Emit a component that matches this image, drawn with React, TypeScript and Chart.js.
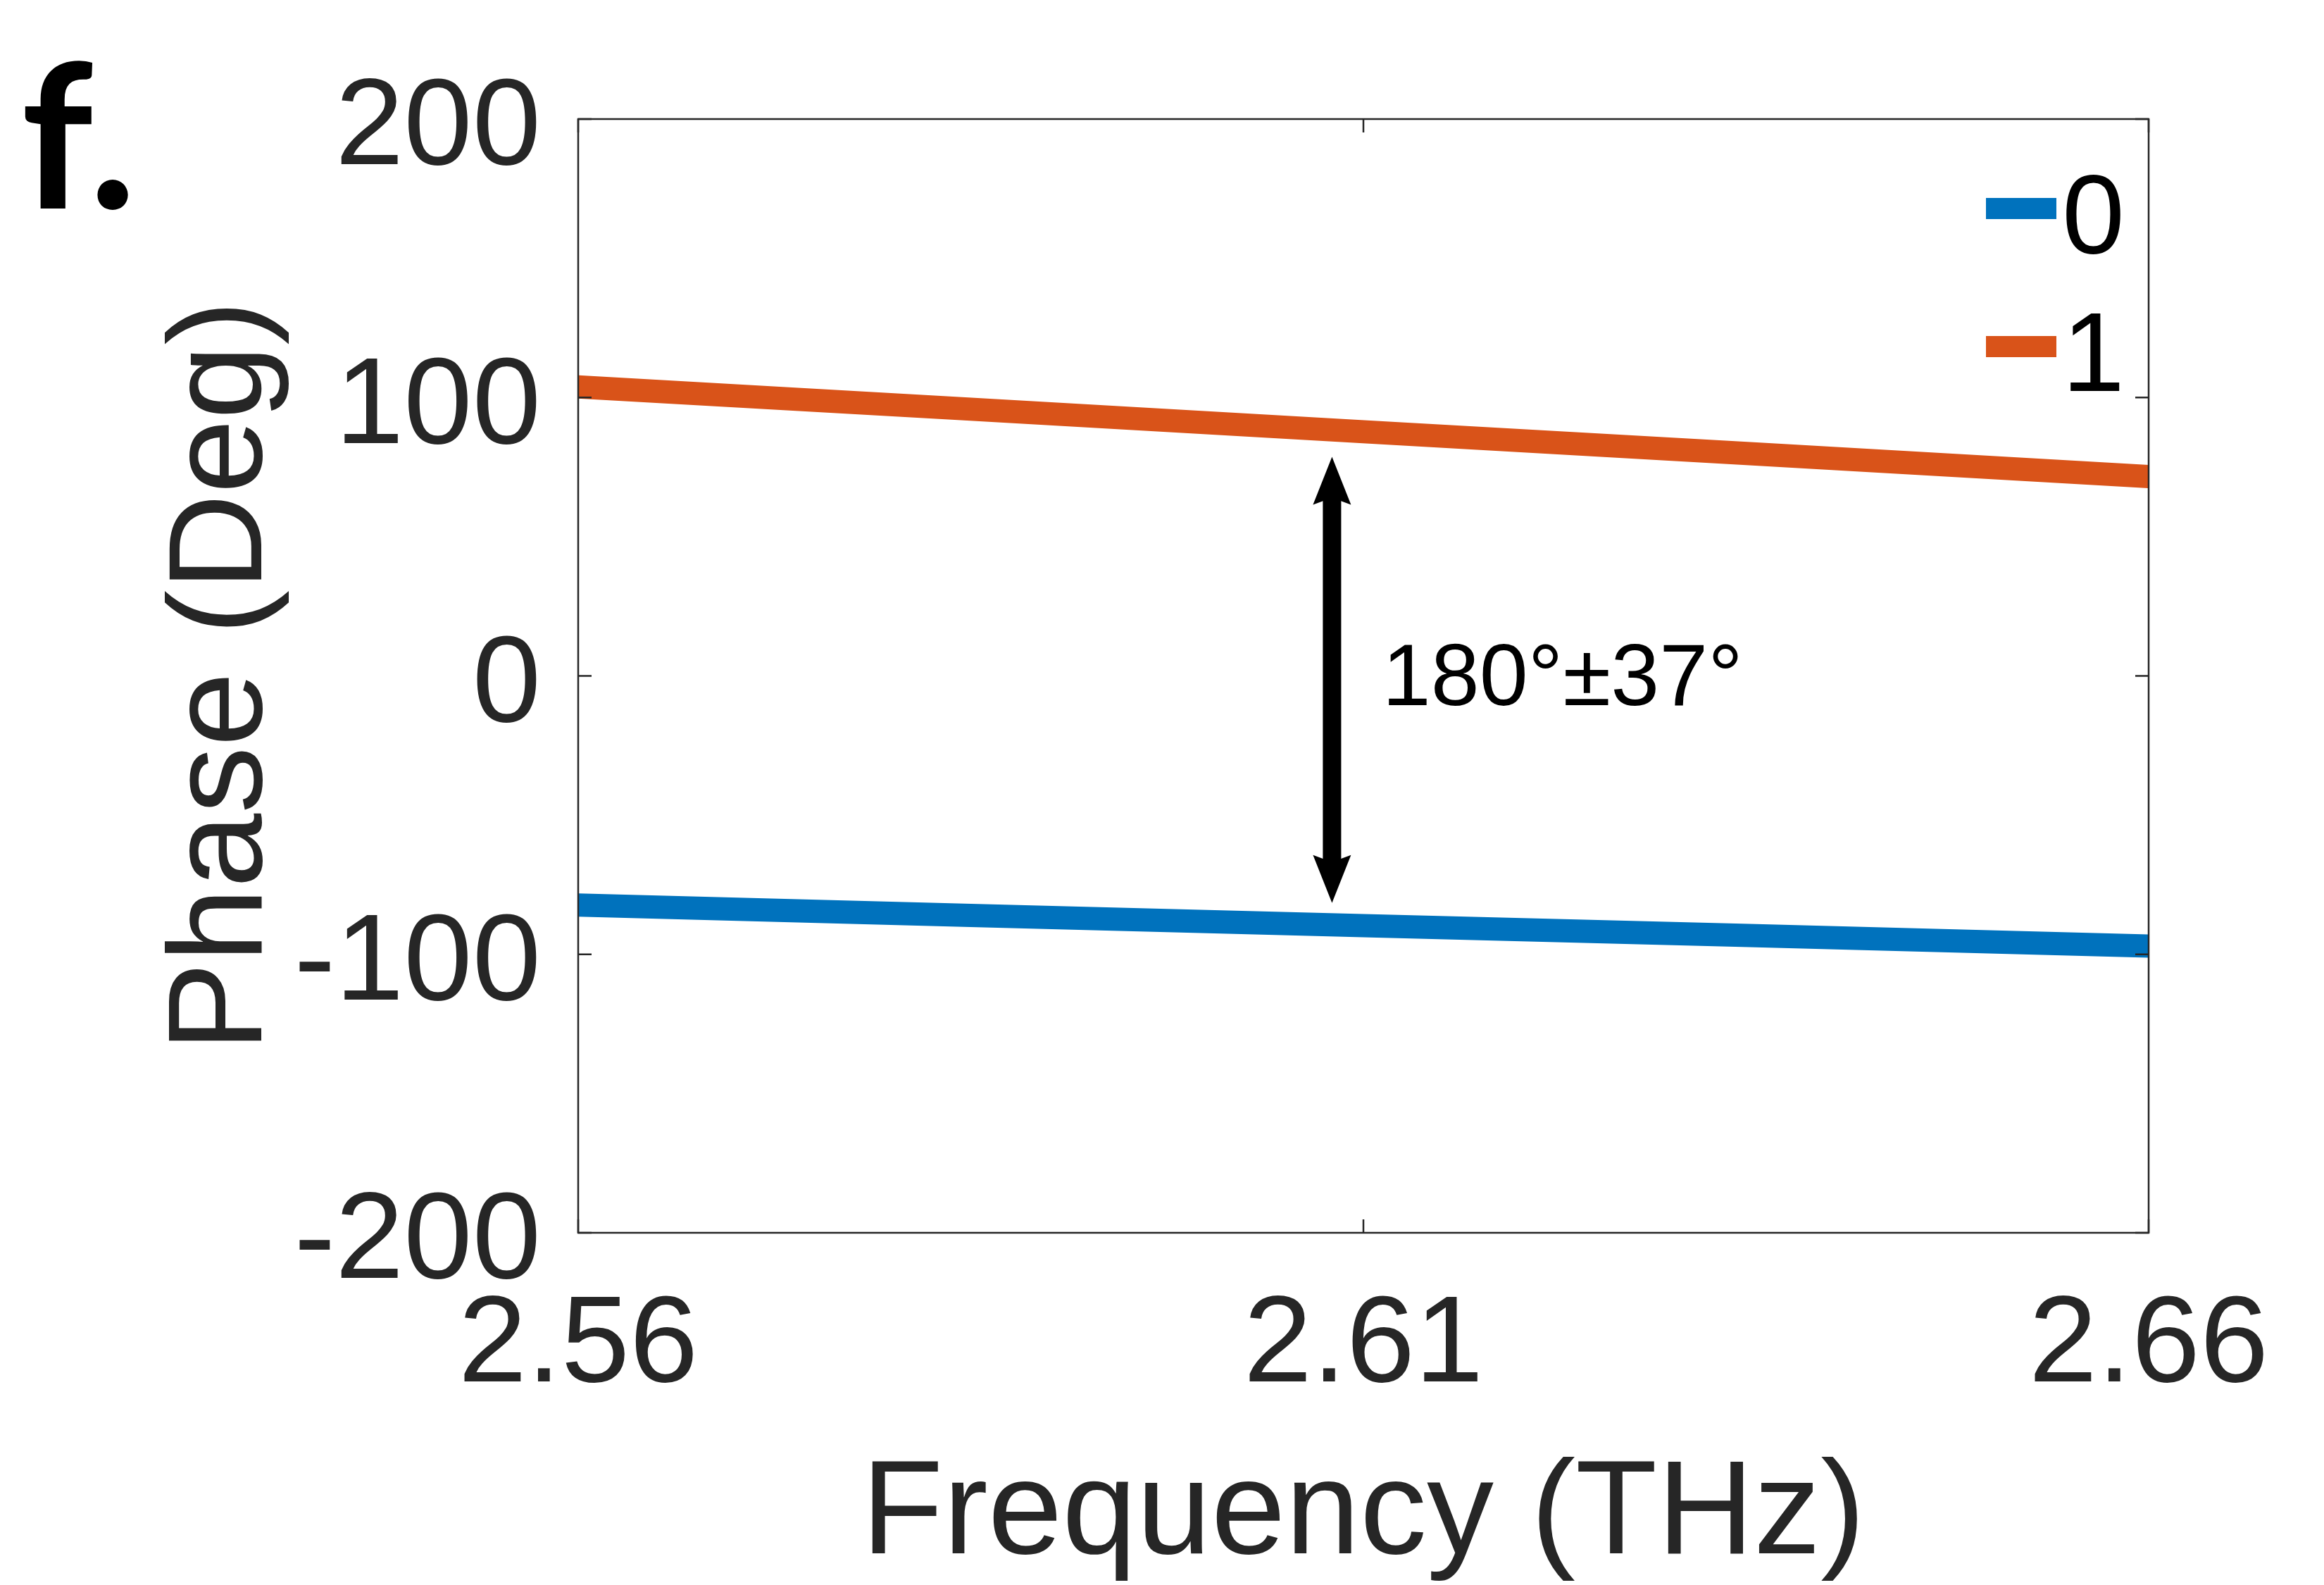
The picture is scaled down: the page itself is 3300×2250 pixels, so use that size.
import { useEffect, useRef } from "react";
import { Chart, registerables, type ChartConfiguration, type Plugin } from "chart.js";

Chart.register(...registerables);

// data
const frequency = [2.56, 2.585, 2.61, 2.635, 2.66];
const phase0 = [-82.3, -86.0, -89.7, -93.3, -97.0];
const phase1 = [103.8, 95.8, 87.7, 79.7, 71.6];
const seriesLabels = ["0", "1"];
const seriesColors = ["#0072BD", "#D95319"];
const xTicks = [2.56, 2.61, 2.66];
const yTicks = [-200, -100, 0, 100, 200];

const annotationText = "180°±37°";
const arrowX = 2.608;
const arrowTop = 78.7;
const arrowBottom = -81.5;
const textX = 2.6112;
const textY = -10.4;

const FONT = "'Liberation Sans', Arimo, Arial, sans-serif";
const INK = "#262626";

const extrasPlugin: Plugin<"line"> = {
  id: "extras",
  afterDraw(chart) {
    const { ctx, chartArea: a, scales } = chart;
    const xs = scales.x;
    const ys = scales.y;
    ctx.save();

    // box + inward ticks (matlab style)
    ctx.strokeStyle = INK;
    ctx.lineWidth = 2.5;
    ctx.strokeRect(a.left, a.top, a.right - a.left, a.bottom - a.top);
    ctx.beginPath();
    xTicks.forEach((v) => {
      const px = xs.getPixelForValue(v);
      ctx.moveTo(px, a.bottom);
      ctx.lineTo(px, a.bottom - 19);
      ctx.moveTo(px, a.top);
      ctx.lineTo(px, a.top + 19);
    });
    yTicks.forEach((v) => {
      const py = ys.getPixelForValue(v);
      ctx.moveTo(a.left, py);
      ctx.lineTo(a.left + 19, py);
      ctx.moveTo(a.right, py);
      ctx.lineTo(a.right - 19, py);
    });
    ctx.stroke();

    // double arrow
    const ax = xs.getPixelForValue(arrowX);
    const at = ys.getPixelForValue(arrowTop);
    const ab = ys.getPixelForValue(arrowBottom);
    ctx.fillStyle = "#000";
    ctx.fillRect(ax - 13, at + 50, 26, ab - at - 100);
    ctx.beginPath();
    ctx.moveTo(ax, at);
    ctx.lineTo(ax + 27, at + 68);
    ctx.lineTo(ax, at + 58);
    ctx.lineTo(ax - 27, at + 68);
    ctx.closePath();
    ctx.fill();
    ctx.beginPath();
    ctx.moveTo(ax, ab);
    ctx.lineTo(ax + 27, ab - 68);
    ctx.lineTo(ax, ab - 58);
    ctx.lineTo(ax - 27, ab - 68);
    ctx.closePath();
    ctx.fill();

    ctx.font = `124px ${FONT}`;
    ctx.textAlign = "left";
    ctx.textBaseline = "alphabetic";
    ctx.fillText(annotationText, xs.getPixelForValue(textX), ys.getPixelForValue(textY));

    // legend, top right inside the box
    chart.data.datasets.forEach((ds, i) => {
      const rowY = a.top + 127 + i * 196;
      ctx.fillStyle = ds.borderColor as string;
      ctx.fillRect(a.right - 231, rowY - 15, 100, 30);
      ctx.fillStyle = "#000";
      ctx.font = `160px ${FONT}`;
      ctx.fillText(String(ds.label), a.right - 123, rowY + 63);
    });

    // panel letter
    ctx.fillStyle = "#000";
    ctx.font = `bold 285px Lato, 'Open Sans', sans-serif`;
    ctx.fillText("f.", 30, 296);

    ctx.restore();
  },
};

export default function App() {
  const chartRef = useRef<HTMLCanvasElement | null>(null);
  const chartInstanceRef = useRef<Chart | null>(null);

  useEffect(() => {
    document.body.style.margin = "0";
    let cancelled = false;

    const build = () => {
      if (cancelled || !chartRef.current) return;
      const ctx = chartRef.current.getContext("2d");
      if (!ctx) return;
      if (chartInstanceRef.current) chartInstanceRef.current.destroy();

      const config: ChartConfiguration<"line"> = {
        type: "line",
        data: {
          datasets: [phase0, phase1].map((vals, i) => ({
            label: seriesLabels[i],
            data: frequency.map((f, j) => ({ x: f, y: vals[j] })),
            borderColor: seriesColors[i],
            backgroundColor: seriesColors[i],
            borderWidth: 33,
            borderCapStyle: "butt",
            pointRadius: 0,
            tension: 0,
          })),
        },
        options: {
          responsive: false,
          animation: false,
          devicePixelRatio: 1,
          layout: { padding: { top: 169, right: 249, bottom: 0, left: 0 } },
          plugins: {
            legend: { display: false },
            tooltip: { enabled: false },
          },
          scales: {
            x: {
              type: "linear",
              min: 2.56,
              max: 2.66,
              afterBuildTicks: (s) => {
                s.ticks = xTicks.map((v) => ({ value: v }));
              },
              afterFit: (s) => {
                s.height = 500;
              },
              grid: { display: false, drawTicks: false },
              border: { display: false },
              ticks: {
                padding: 58,
                color: INK,
                maxRotation: 0,
                font: { family: FONT, size: 175 },
                callback: (v) => Number(v).toFixed(2),
              },
              title: {
                display: true,
                text: "Frequency (THz)",
                color: INK,
                font: { family: FONT, size: 190 },
                padding: { top: 0, bottom: -17 },
              },
            },
            y: {
              type: "linear",
              min: -200,
              max: 200,
              afterBuildTicks: (s) => {
                s.ticks = yTicks.map((v) => ({ value: v }));
              },
              afterFit: (s) => {
                s.width = 821;
              },
              grid: { display: false, drawTicks: false },
              border: { display: false },
              ticks: {
                padding: 53,
                labelOffset: 16,
                color: INK,
                font: { family: FONT, size: 175 },
                callback: (v) => String(v),
              },
              title: {
                display: true,
                text: "Phase (Deg)",
                color: INK,
                font: { family: FONT, size: 190 },
                padding: { top: 205, bottom: 0 },
              },
            },
          },
        },
        plugins: [extrasPlugin],
      };

      chartInstanceRef.current = new Chart(ctx, config);
    };

    const loads = [
      "175px 'Liberation Sans'",
      "bold 285px Lato",
    ].map((f) => document.fonts.load(f).catch(() => []));
    Promise.all(loads).then(build, build);

    return () => {
      cancelled = true;
      if (chartInstanceRef.current) {
        chartInstanceRef.current.destroy();
        chartInstanceRef.current = null;
      }
    };
  }, []);

  return (
    <div style={{ width: 3300, height: 2250, background: "#fff" }}>
      <canvas ref={chartRef} width={3300} height={2250} />
    </div>
  );
}
